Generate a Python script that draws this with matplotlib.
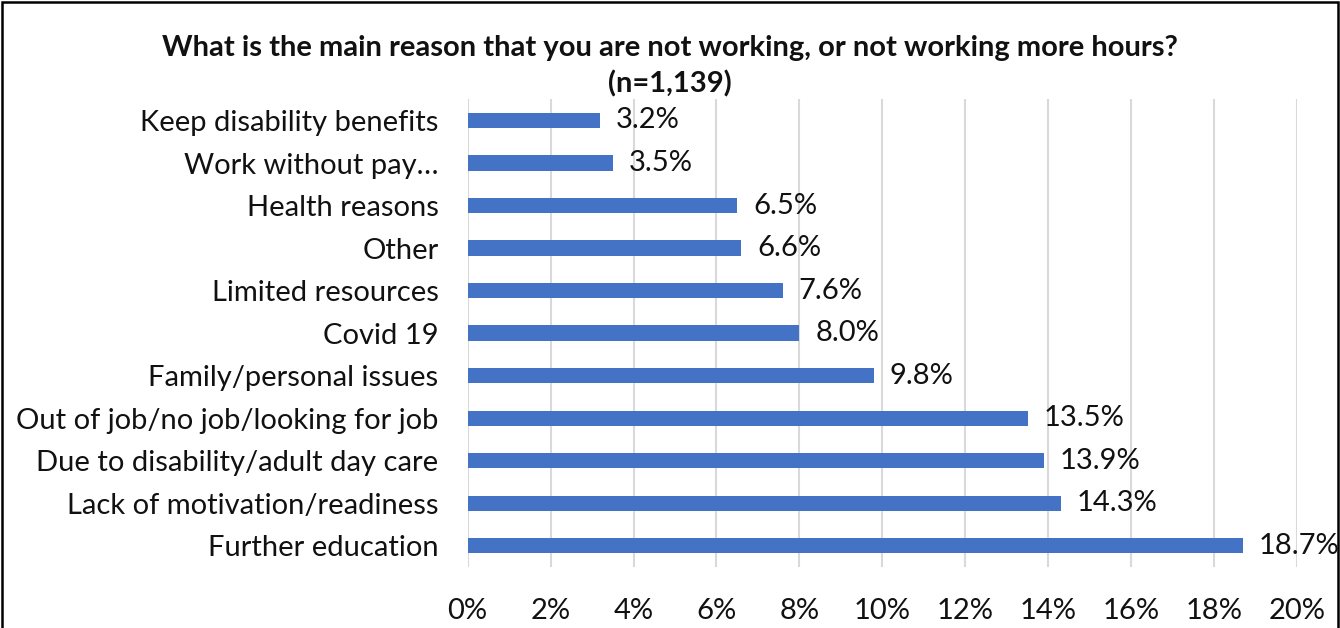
import matplotlib.pyplot as plt
from matplotlib.patches import Rectangle
from matplotlib.ticker import FuncFormatter

# survey answers, listed bottom-to-top
reasons = [
    "Further education",
    "Lack of motivation/readiness",
    "Due to disability/adult day care",
    "Out of job/no job/looking for job",
    "Family/personal issues",
    "Covid 19",
    "Limited resources",
    "Other",
    "Health reasons",
    "Work without pay\u2026",
    "Keep disability benefits",
]
shares = [18.7, 14.3, 13.9, 13.5, 9.8, 8.0, 7.6, 6.6, 6.5, 3.5, 3.2]
x_ticks = [0, 2, 4, 6, 8, 10, 12, 14, 16, 18, 20]

plt.rcParams['font.family'] = ['Lato', 'DejaVu Sans']

fig = plt.figure(figsize=(13.4, 6.28), dpi=100)
ax = fig.add_axes([0.349, 0.097, 0.619, 0.745])

pos = list(range(len(reasons)))
ax.barh(pos, shares, height=0.36, color='#4472C4', zorder=3)
for p, v in zip(pos, shares):
    ax.text(v + 0.38, p, f"{v:.1f}%", va='center', ha='left', fontsize=21, color='#111111')

ax.set_ylim(-0.5, len(reasons) - 0.5)
ax.set_xlim(0, 20)
ax.set_xticks(x_ticks)
ax.xaxis.set_major_formatter(FuncFormatter(lambda v, _: f"{v:.0f}%"))
ax.set_yticks(pos)
ax.set_yticklabels(reasons)
ax.tick_params(axis='both', length=0, labelsize=21, colors='#111111')
ax.tick_params(axis='y', pad=21)
ax.tick_params(axis='x', pad=22)
ax.grid(axis='x', color='#D9D9D9', linewidth=1.5, zorder=0)
for s in ax.spines.values():
    s.set_visible(False)

fig.text(0.5, 0.923, "What is the main reason that you are not working, or not working more hours?",
         ha='center', va='center', fontsize=21, fontweight='bold', color='#111111')
fig.text(0.5, 0.866, "(n=1,139)", ha='center', va='center', fontsize=21,
         fontweight='bold', color='#111111')

# chart frame (bottom edge falls outside the canvas)
fig.add_artist(Rectangle((0.0015, -0.05), 0.997, 1.047, transform=fig.transFigure,
                         fill=False, edgecolor='black', linewidth=1.8))

fig.savefig('out.png', dpi=100, facecolor='white')
